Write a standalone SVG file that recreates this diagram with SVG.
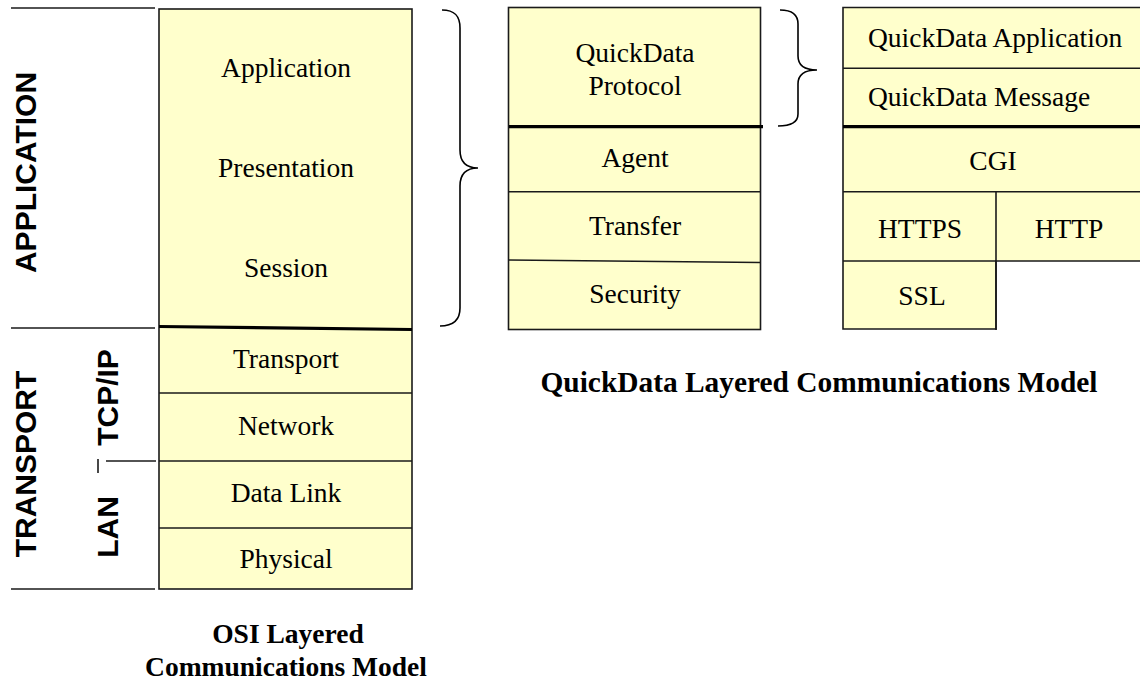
<svg xmlns="http://www.w3.org/2000/svg" width="1140" height="683" viewBox="0 0 1140 683">
<style>
.box{fill:#ffffcc;stroke:#1a1a1a;stroke-width:1.6}
.ln{stroke:#1a1a1a;stroke-width:1.6;fill:none}
.thick{stroke:#000;stroke-width:3.2;fill:none}
.brace{stroke:#000;stroke-width:1.6;fill:none}
.t{font-family:"Liberation Serif","Times New Roman",serif;font-size:27.5px;fill:#000;text-anchor:middle}
.tl{font-family:"Liberation Serif","Times New Roman",serif;font-size:27.5px;fill:#000}
.cap{font-family:"Liberation Serif","Times New Roman",serif;font-size:27.5px;font-weight:bold;fill:#000;text-anchor:middle}
.v{font-family:"Liberation Sans",Arial,sans-serif;font-size:30px;font-weight:bold;fill:#000;text-anchor:middle}
</style>
<rect width="1140" height="683" fill="#ffffff"/>

<g id="side-labels">
  <line class="ln" x1="11" y1="8" x2="155" y2="8"/>
  <line class="ln" x1="11" y1="328" x2="155" y2="328"/>
  <line class="ln" x1="11" y1="589" x2="155" y2="589"/>
  <line class="ln" x1="106" y1="461" x2="156" y2="461"/>
  <line class="ln" x1="98" y1="459" x2="98" y2="473"/>
  <text class="v" transform="translate(36,172.5) rotate(-90)">APPLICATION</text>
  <text class="v" transform="translate(36,464) rotate(-90)">TRANSPORT</text>
  <text class="v" transform="translate(118,397.5) rotate(-90)">TCP/IP</text>
  <text class="v" transform="translate(118,527) rotate(-90)">LAN</text>
</g>

<g id="osi-model">
  <rect class="box" x="159" y="9" width="253" height="580"/>
  <line class="thick" x1="159" y1="326.5" x2="412" y2="329.5"/>
  <line class="ln" x1="159" y1="393" x2="412" y2="393"/>
  <line class="ln" x1="159" y1="461" x2="412" y2="461"/>
  <line class="ln" x1="159" y1="528" x2="412" y2="528"/>
  <text class="t" x="286" y="77">Application</text>
  <text class="t" x="286" y="177">Presentation</text>
  <text class="t" x="286" y="277">Session</text>
  <text class="t" x="286" y="368">Transport</text>
  <text class="t" x="286" y="435">Network</text>
  <text class="t" x="286" y="502">Data Link</text>
  <text class="t" x="286" y="568">Physical</text>
  <text class="cap" x="288" y="643">OSI Layered</text>
  <text class="cap" x="286" y="676">Communications Model</text>
</g>

<g id="connectors">
  <path class="brace" d="M442,10 C455,10 460,16 460,28 L460,150 C460,162 466,168 478,168 C466,168 460,174 460,186 L460,308 C460,320 454,326 440,326"/>
  <path class="brace" d="M780,10 C792,10 798,14 798,24 L798,56 C798,65 804,70 817,70 C804,70 798,75 798,84 L798,114 C798,122 792,126 778,126"/>
</g>

<g id="quickdata-protocol">
  <rect class="box" x="508.5" y="7.5" width="252" height="322"/>
  <line class="thick" x1="509" y1="126.7" x2="763" y2="126.7"/>
  <line class="ln" x1="508.5" y1="191.7" x2="760.5" y2="191.7"/>
  <line class="ln" x1="508.5" y1="260" x2="760.5" y2="262.5"/>
  <text class="t" x="635" y="62">QuickData</text>
  <text class="t" x="635" y="95">Protocol</text>
  <text class="t" x="635" y="167">Agent</text>
  <text class="t" x="635" y="235">Transfer</text>
  <text class="t" x="635" y="303">Security</text>
</g>

<g id="quickdata-web">
  <path class="box" d="M843,7.5 L1150,7.5 L1150,261 L996,261 L996,329 L843,329 Z"/>
  <line class="ln" x1="843" y1="68.3" x2="1150" y2="68.3"/>
  <line class="thick" x1="843" y1="126.7" x2="1150" y2="126.7"/>
  <line class="ln" x1="843" y1="191.7" x2="1150" y2="191.7"/>
  <line class="ln" x1="843" y1="261" x2="996" y2="261"/>
  <line class="ln" x1="996" y1="191.7" x2="996" y2="330"/>
  <text class="tl" x="868" y="47">QuickData Application</text>
  <text class="tl" x="868" y="106">QuickData Message</text>
  <text class="t" x="993" y="170">CGI</text>
  <text class="t" x="920" y="238">HTTPS</text>
  <text class="t" x="1069" y="238">HTTP</text>
  <text class="t" x="922" y="305">SSL</text>
  <text class="cap" x="819" y="392" style="font-size:29.4px">QuickData Layered Communications Model</text>
</g>
</svg>
